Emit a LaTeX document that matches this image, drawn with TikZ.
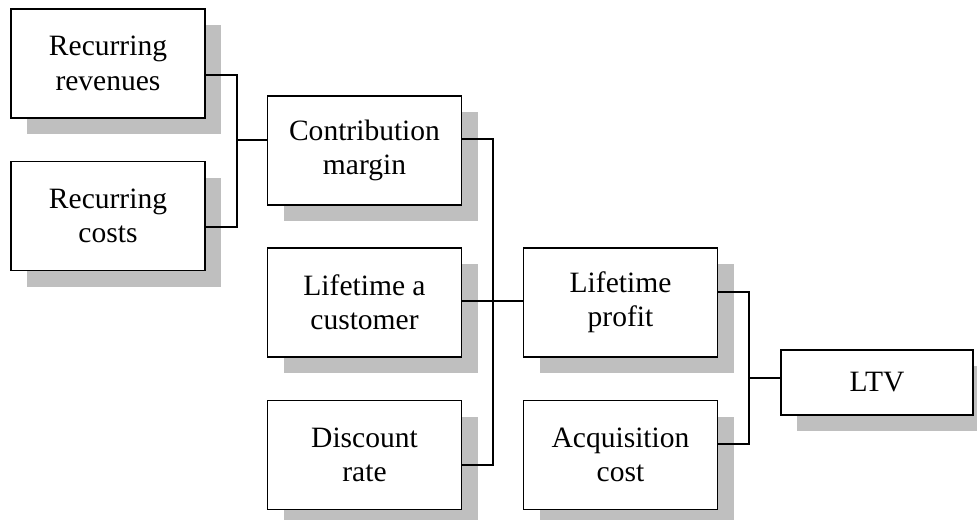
\documentclass[tikz,border=0pt]{standalone}
\usepackage{fontspec}
\setmainfont{Liberation Serif}
\usetikzlibrary{shadows}

\begin{document}
\begin{tikzpicture}
[boxDecorate/.style={shape=rectangle,draw,line width=1.2pt,fill=white,
   minimum width=4.85cm,minimum height=2.725cm,align=center,
   font=\fontsize{21}{24.5}\selectfont,
   drop shadow={shadow xshift=0.4cm,shadow yshift=-0.4cm,fill=gray!50,opacity=1}},%
  lineDecorate/.style={-,line width=1.2pt}]
\useasboundingbox (0,0) rectangle (24.425,-12.975);
%% nodes or vertices
\node (rev) at (2.70,-1.5875) [boxDecorate] {Recurring\\revenues};
\node (cost) at (2.70,-5.40) [boxDecorate] {Recurring\\costs};
\node (cm) at (9.1125,-3.7625) [boxDecorate] {Contribution\\margin};
\node (lac) at (9.1125,-7.5625) [boxDecorate] {Lifetime a\\customer};
\node (dr) at (9.1125,-11.375) [boxDecorate] {Discount\\rate};
\node (lp) at (15.5125,-7.5625) [boxDecorate] {Lifetime\\profit};
\node (ac) at (15.5125,-11.375) [boxDecorate] {Acquisition\\cost};
\node (ltv) at (21.925,-9.5625) [boxDecorate,minimum width=4.8cm,minimum height=1.625cm] {LTV};
%% junctions
\coordinate (j1) at (5.925,-3.5);
\coordinate (j2) at (12.325,-7.525);
\coordinate (j3) at (18.725,-9.45);
%% edges or lines
\draw[lineDecorate] ([yshift=-0.2875cm]rev.east) -| (j1) |- ([yshift=-0.275cm]cost.east);
\draw[lineDecorate] (j1) -- (j1 -| cm.west);
\draw[lineDecorate] ([yshift=0.2875cm]cm.east) -| (j2) |- ([yshift=-0.25cm]dr.east);
\draw[lineDecorate] (j2 -| lac.east) -- (j2 -| lp.west);
\draw[lineDecorate] ([yshift=0.2625cm]lp.east) -| (j3) |- ([yshift=0.275cm]ac.east);
\draw[lineDecorate] (j3) -- (j3 -| ltv.west);
\end{tikzpicture}
\end{document}
